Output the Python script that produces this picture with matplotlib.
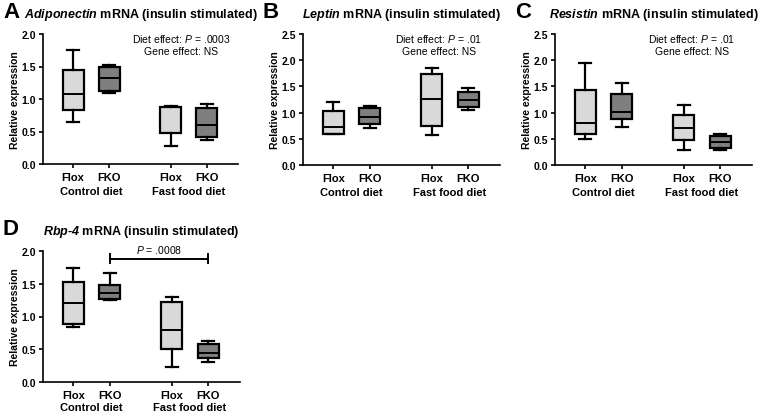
import matplotlib
matplotlib.use("Agg")
import matplotlib.pyplot as plt
import matplotlib.transforms as mtransforms

plt.rcParams['font.family'] = ['Liberation Sans', 'DejaVu Sans']
plt.rcParams['mathtext.fontset'] = 'custom'
plt.rcParams['mathtext.rm'] = 'Liberation Sans'
plt.rcParams['mathtext.it'] = 'Liberation Sans:italic'
plt.rcParams['mathtext.bf'] = 'Liberation Sans:bold'
plt.rcParams['mathtext.bfit'] = 'Liberation Sans:italic:bold'

# groups, left to right: Flox/FKO on control diet, Flox/FKO on fast food diet
tick_labels = ['Flox', 'FKO', 'Flox', 'FKO']
diet_labels = ['Control diet', 'Fast food diet']
genes = ['Adiponectin', 'Leptin', 'Resistin', 'Rbp\u20104']
panel_letters = ['A', 'B', 'C', 'D']

# box stats per gene: whisker low, q1, median, q3, whisker high
adipo_low = [0.65, 1.10, 0.28, 0.37]
adipo_q1 = [0.83, 1.12, 0.47, 0.41]
adipo_med = [1.08, 1.33, 0.87, 0.60]
adipo_q3 = [1.45, 1.50, 0.87, 0.86]
adipo_high = [1.75, 1.52, 0.89, 0.92]

leptin_low = [0.60, 0.70, 0.57, 1.05]
leptin_q1 = [0.60, 0.78, 0.74, 1.10]
leptin_med = [0.72, 0.92, 1.26, 1.24]
leptin_q3 = [1.04, 1.09, 1.74, 1.40]
leptin_high = [1.21, 1.12, 1.85, 1.47]

resist_low = [0.50, 0.73, 0.28, 0.29]
resist_q1 = [0.60, 0.87, 0.48, 0.33]
resist_med = [0.80, 1.01, 0.71, 0.43]
resist_q3 = [1.43, 1.35, 0.95, 0.55]
resist_high = [1.94, 1.57, 1.14, 0.59]

rbp4_low = [0.84, 1.25, 0.23, 0.31]
rbp4_q1 = [0.89, 1.27, 0.50, 0.36]
rbp4_med = [1.21, 1.36, 0.80, 0.45]
rbp4_q3 = [1.52, 1.48, 1.22, 0.58]
rbp4_high = [1.74, 1.67, 1.30, 0.62]

y_tops = [2.0, 2.5, 2.5, 2.0]
annotations = [('.0003', 'NS'), ('.01', 'NS'), ('.01', 'NS'), None]
rbp4_p = '.0008'

stats = [
    (adipo_low, adipo_q1, adipo_med, adipo_q3, adipo_high),
    (leptin_low, leptin_q1, leptin_med, leptin_q3, leptin_high),
    (resist_low, resist_q1, resist_med, resist_q3, resist_high),
    (rbp4_low, rbp4_q1, rbp4_med, rbp4_q3, rbp4_high),
]

positions = [1.0, 2.2, 4.25, 5.45]
colors = ['#d9d9d9', '#7f7f7f', '#d9d9d9', '#7f7f7f']

W, H = 758, 414
fig = plt.figure(figsize=(W / 100, H / 100), dpi=100)

# axes boxes in pixels: left, top, right, bottom
rects = [(43, 35, 238, 165), (303, 35, 500, 166), (555, 35, 752, 166), (43, 252, 240, 383)]
note_x = [0.708, 0.69, 0.695]
diet_y = [-0.205, -0.205, -0.205, -0.19]

for i, (gene, letter) in enumerate(zip(genes, panel_letters)):
    l, t, r, b = rects[i]
    ax = fig.add_axes([l / W, 1 - b / H, (r - l) / W, (b - t) / H])
    low, q1, med, q3, high = stats[i]
    bxp_stats = [dict(whislo=low[k], q1=q1[k], med=med[k], q3=q3[k], whishi=high[k], fliers=[])
                 for k in range(4)]
    bp = ax.bxp(bxp_stats, positions=positions, widths=0.7, patch_artist=True,
                showfliers=False,
                boxprops=dict(linewidth=1.6, edgecolor='black'),
                whiskerprops=dict(linewidth=1.6, color='black'),
                capprops=dict(linewidth=1.6, color='black'),
                medianprops=dict(linewidth=1.4, color='black'),
                capwidths=0.4)
    for patch, c in zip(bp['boxes'], colors):
        patch.set_facecolor(c)

    ax.set_xlim(0, 6.5)
    ax.set_ylim(0, y_tops[i])
    n = int(y_tops[i] / 0.5) + 1
    ax.set_yticks([v * 0.5 for v in range(n)])
    ax.set_yticklabels([f'{v * 0.5:.1f}' for v in range(n)], fontsize=7.5, fontweight='bold')
    ax.set_xticks(positions)
    ax.set_xticklabels(tick_labels, fontsize=8, fontweight='bold')
    ax.spines['top'].set_visible(False)
    ax.spines['right'].set_visible(False)
    ax.spines['left'].set_linewidth(1.2)
    ax.spines['bottom'].set_linewidth(1.2)
    ax.tick_params(width=1.2, length=3, pad=2)
    ax.tick_params(axis='x', pad=3)
    ax.set_ylabel('Relative expression', fontsize=7.5, fontweight='bold', labelpad=1)

    trans = mtransforms.blended_transform_factory(ax.transData, ax.transAxes)
    ax.text((positions[0] + positions[1]) / 2, diet_y[i], diet_labels[0], transform=trans,
            ha='center', va='center', fontsize=8, fontweight='bold')
    ax.text((positions[2] + positions[3]) / 2, diet_y[i], diet_labels[1], transform=trans,
            ha='center', va='center', fontsize=8, fontweight='bold')

    ax.set_title(r'$\mathbfit{' + gene + '}$ mRNA (insulin stimulated)',
                 fontsize=9, fontweight='bold', pad=12)
    fig.text((l - 40) / W, 1 - (t - 22) / H, letter, fontsize=16, fontweight='bold',
             ha='left', va='center')

    if annotations[i] is not None:
        p, g = annotations[i]
        ax.text(note_x[i], 0.97, r'Diet effect: $\mathit{P}$ = ' + p, transform=ax.transAxes,
                ha='center', va='center', fontsize=7.5)
        ax.text(note_x[i], 0.87, 'Gene effect: ' + g, transform=ax.transAxes,
                ha='center', va='center', fontsize=7.5)
    else:
        yb = 1.88
        ax.plot([positions[1], positions[3]], [yb, yb], color='black', lw=1.4, clip_on=False)
        ax.plot([positions[1], positions[1]], [yb - 0.07, yb + 0.07], color='black', lw=1.4, clip_on=False)
        ax.plot([positions[3], positions[3]], [yb - 0.07, yb + 0.07], color='black', lw=1.4, clip_on=False)
        ax.text((positions[1] + positions[3]) / 2, yb + 0.06, r'$\mathit{P}$ = ' + rbp4_p,
                ha='center', va='bottom', fontsize=7.5, clip_on=False)

fig.savefig('out.png', dpi=100)
